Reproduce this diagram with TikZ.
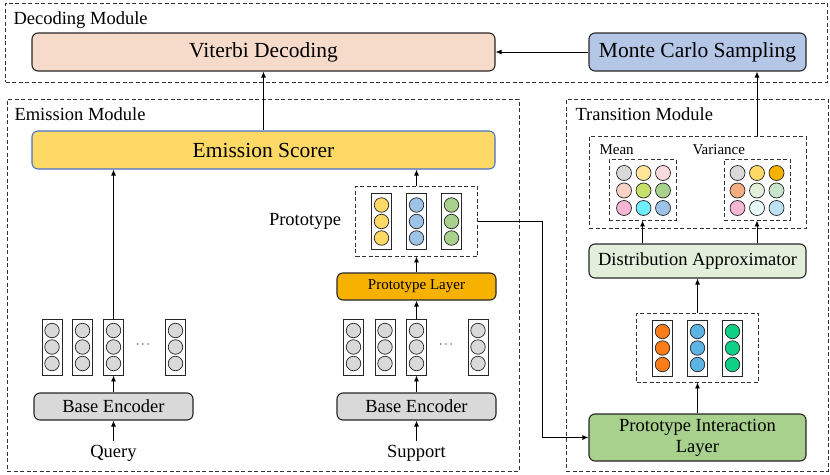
\documentclass[tikz,border=0pt]{standalone}
\usepackage{fontspec}
\setmainfont{Liberation Serif}
\usetikzlibrary{positioning, arrows.meta}

\definecolor{peach}{HTML}{F6DACA}
\definecolor{skyblock}{HTML}{B4C7E7}
\definecolor{scorerfill}{HTML}{FFD966}
\definecolor{scorerline}{HTML}{4472C4}
\definecolor{layerfill}{HTML}{F7B200}
\definecolor{encfill}{HTML}{D9D9D9}
\definecolor{approxfill}{HTML}{E2EFDA}
\definecolor{interfill}{HTML}{A9D18E}
\definecolor{dotgray}{HTML}{D9D9D9}
\definecolor{dotyellow}{HTML}{FFD966}
\definecolor{dotblue}{HTML}{9DC3E6}
\definecolor{dotgreen}{HTML}{A9D18E}
\definecolor{dotorange}{HTML}{FA7D1A}
\definecolor{dotsky}{HTML}{5CB4E4}
\definecolor{dotmint}{HTML}{10D088}
% mean / variance colours
\definecolor{mA}{HTML}{D9D9D9}
\definecolor{mB}{HTML}{FFE699}
\definecolor{mC}{HTML}{FADBDE}
\definecolor{mD}{HTML}{FBD3C6}
\definecolor{mE}{HTML}{C6E06C}
\definecolor{mF}{HTML}{A9D18E}
\definecolor{mG}{HTML}{F6B6D4}
\definecolor{mH}{HTML}{6EEEFC}
\definecolor{mI}{HTML}{9DC3E6}
\definecolor{vA}{HTML}{D9D9D9}
\definecolor{vB}{HTML}{FFD966}
\definecolor{vC}{HTML}{F7B200}
\definecolor{vD}{HTML}{F2AE80}
\definecolor{vE}{HTML}{E2EFDA}
\definecolor{vF}{HTML}{C8E4CA}
\definecolor{vG}{HTML}{F6B6D4}
\definecolor{vH}{HTML}{E6FBF7}
\definecolor{vI}{HTML}{BCE2F2}

\tikzstyle{module}=[draw=black!80, dash pattern=on 4pt off 2.5pt, line width=0.9pt, inner sep=0]
\tikzstyle{block}=[draw=black!85, rounded corners=6pt, line width=1.1pt, inner sep=0, align=center]
\tikzstyle{vec}=[draw=black!85, fill=white, line width=0.9pt, minimum width=20pt, minimum height=56pt, inner sep=0]
\tikzstyle{dot}=[circle, draw=black!85, line width=0.7pt, minimum size=14.5pt, inner sep=0]
\tikzstyle{arrow}=[-{Latex[length=6pt,width=5pt]}, line width=0.9pt]
\tikzstyle{big}=[font=\fontsize{21.5}{24}\selectfont]
\tikzstyle{mid}=[font=\fontsize{18.5}{22}\selectfont]
\tikzstyle{small}=[font=\fontsize{15}{18}\selectfont]

\newcommand{\featvec}[4]{%
  \node[vec] (#1) at (#2,#3) {};
  \foreach \k in {-1,0,1}
    \node[dot, fill=#4] at (#2,{#3+\k*16.5}) {};
}

\begin{document}
\begin{tikzpicture}[x=1pt, y=-1pt]
        \useasboundingbox (0,0) rectangle (830,474);

        % Les modules
        \node[module, minimum width=822pt, minimum height=79pt] (decoding) at (416.5,42.5) {};
        \node[module, minimum width=512pt, minimum height=372pt] (emission) at (263,285) {};
        \node[module, minimum width=262pt, minimum height=372pt] (transition) at (697,285) {};
        \node[mid, anchor=base west] (declabel) at (10,24) {Decoding Module};
        \node[mid, anchor=base west] (emilabel) at (11,120) {Emission Module};
        \node[mid, anchor=base west] (tralabel) at (572,120) {Transition Module};

        % Decodage
        \node[block, big, fill=peach, minimum width=463pt, minimum height=38pt] (viterbi) at (263.5,52) {Viterbi Decoding};
        \node[block, big, fill=skyblock, minimum width=217pt, minimum height=38pt] (monte) at (697.5,52) {Monte Carlo Sampling};

        % Emission
        \node[block, big, fill=scorerfill, draw=scorerline, minimum width=463pt, minimum height=38pt] (scorer) at (263.5,150) {Emission Scorer};
        \node[block, mid, fill=encfill, minimum width=159pt, minimum height=27pt] (qenc) at (113.5,406.5) {Base Encoder};
        \node[block, mid, fill=encfill, minimum width=159pt, minimum height=27pt] (senc) at (416.5,406.5) {Base Encoder};
        \node[mid, anchor=base] (query) at (113.5,457) {Query};
        \node[mid, anchor=base] (support) at (416.5,457) {Support};
        \featvec{q1}{52}{347}{dotgray}
        \featvec{q2}{82.5}{347}{dotgray}
        \featvec{q3}{113.5}{347}{dotgray}
        \featvec{q4}{175.5}{347}{dotgray}
        \node (qdots) at (143,345) {\fontsize{12}{12}\selectfont$\cdots$};
        \featvec{s1}{353.5}{347}{dotgray}
        \featvec{s2}{385}{347}{dotgray}
        \featvec{s3}{416.5}{347}{dotgray}
        \featvec{s4}{478}{347}{dotgray}
        \node (sdots) at (446,345) {\fontsize{12}{12}\selectfont$\cdots$};
        \node[block, small, fill=layerfill, minimum width=159pt, minimum height=27pt] (protolayer) at (416.5,286.5) {Prototype Layer};
        \node[module, minimum width=122pt, minimum height=70pt] (protobox) at (416.5,221) {};
        \featvec{p1}{381.5}{221.5}{dotyellow}
        \featvec{p2}{416.5}{221.5}{dotblue}
        \featvec{p3}{451.5}{221.5}{dotgreen}
        \node[mid] (protolabel) at (305,221) {Prototype};

        % Transition
        \node[module, minimum width=217pt, minimum height=92pt] (stats) at (697.5,182) {};
        \node[small, anchor=base west] (meanlabel) at (596,154) {Mean};
        \node[small, anchor=base west] (varlabel) at (689,154) {Variance};
        \node[module, minimum width=67pt, minimum height=61pt] (meangrid) at (642.5,189.5) {};
        \node[module, minimum width=66pt, minimum height=61pt] (vargrid) at (757,189.5) {};
        \foreach \i/\j/\c in {0/0/mA, 1/0/mB, 2/0/mC, 0/1/mD, 1/1/mE, 2/1/mF, 0/2/mG, 1/2/mH, 2/2/mI}
          \node[dot, fill=\c, minimum size=15pt] at ({643.5+(\i-1)*19.5},{190.5+(\j-1)*17.5}) {};
        \foreach \i/\j/\c in {0/0/vA, 1/0/vB, 2/0/vC, 0/1/vD, 1/1/vE, 2/1/vF, 0/2/vG, 1/2/vH, 2/2/vI}
          \node[dot, fill=\c, minimum size=15pt] at ({757+(\i-1)*19.5},{190.5+(\j-1)*17.5}) {};
        \node[block, mid, fill=approxfill, minimum width=217pt, minimum height=34pt] (approx) at (697.5,261) {Distribution Approximator};
        \node[module, minimum width=122pt, minimum height=69pt] (tbox) at (697.5,347.5) {};
        \featvec{t1}{662.5}{348}{dotorange}
        \featvec{t2}{697.5}{348}{dotsky}
        \featvec{t3}{732.5}{348}{dotmint}
        \node[block, mid, fill=interfill, minimum width=217pt, minimum height=47pt] (inter) at (697.5,437.5) {Prototype Interaction\\[-1pt]Layer};
        \coordinate (bend) at (542,437.5);

        % Les fleches
        \draw[arrow] (monte.west) -- (viterbi.east);
        \draw[arrow] (scorer.north) -- (viterbi.south);
        \draw[arrow] (q3.north) -- (q3.north |- scorer.south);
        \draw[arrow] (qenc.north) -- (q3.south);
        \draw[arrow] (query.north) -- (qenc.south);
        \draw[arrow] (support.north) -- (senc.south);
        \draw[arrow] (senc.north) -- (s3.south);
        \draw[arrow] (s3.north) -- (protolayer.south);
        \draw[arrow] (protolayer.north) -- (protobox.south);
        \draw[arrow] (protobox.north) -- (protobox.north |- scorer.south);
        \draw[arrow] (protobox.east) -| (bend) -- (inter.west);
        \draw[arrow] (inter.north) -- (tbox.south);
        \draw[arrow] (tbox.north) -- (approx.south);
        \draw[arrow] (meangrid.south |- approx.north) -- (meangrid.south);
        \draw[arrow] (vargrid.south |- approx.north) -- (vargrid.south);
        \draw[arrow] (vargrid.north |- stats.north) -- (vargrid.north |- monte.south);
    \end{tikzpicture}
\end{document}
